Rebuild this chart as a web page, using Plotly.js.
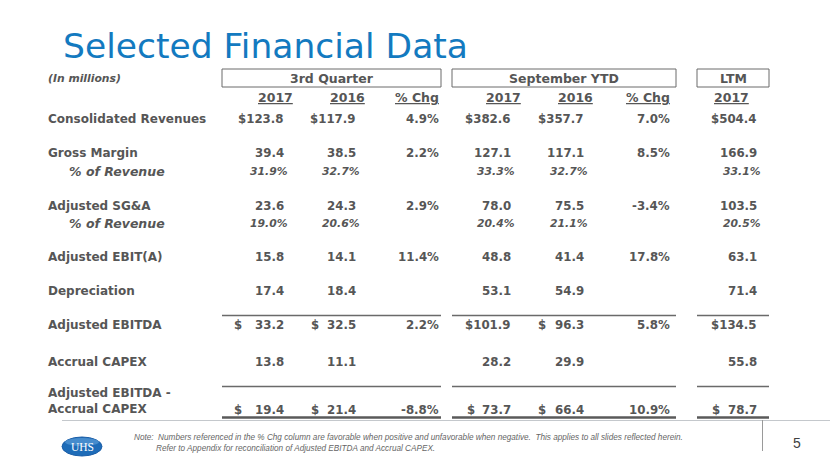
<!DOCTYPE html>
<html>
<head>
<meta charset="utf-8">
<script src="https://cdn.plot.ly/plotly-3.0.1.min.js"></script>
<style>html,body{margin:0;padding:0;background:#fff;}#chart{width:830px;height:467px;}</style>
</head>
<body>
<div id="chart"></div>
<script>
// ---- Data ----
const rowLabels = ["Consolidated Revenues", "Gross Margin", "% of Revenue", "Adjusted SG&A", "% of Revenue",
  "Adjusted EBIT(A)", "Depreciation", "Adjusted EBITDA", "Accrual CAPEX", "Adjusted EBITDA -<br>Accrual CAPEX"];
const rowKinds = ["dollar", "num", "pct", "num", "pct", "num", "num", "dollar", "num", "dollar"];
const q2017   = [123.8, 39.4, 31.9, 23.6, 19.0, 15.8, 17.4, 33.2, 13.8, 19.4];
const q2016   = [117.9, 38.5, 32.7, 24.3, 20.6, 14.1, 18.4, 32.5, 11.1, 21.4];
const qChg    = [4.9, 2.2, null, 2.9, null, 11.4, null, 2.2, null, -8.8];
const ytd2017 = [382.6, 127.1, 33.3, 78.0, 20.4, 48.8, 53.1, 101.9, 28.2, 73.7];
const ytd2016 = [357.7, 117.1, 32.7, 75.5, 21.1, 41.4, 54.9, 96.3, 29.9, 66.4];
const ytdChg  = [7.0, 8.5, null, -3.4, null, 17.8, null, 5.8, null, 10.9];
const ltm2017 = [504.4, 166.9, 33.1, 103.5, 20.5, 63.1, 71.4, 134.5, 55.8, 78.7];
const groupLabels = ["3rd Quarter", "September YTD", "LTM"];
const colHeaders = ["2017", "2016", "% Chg", "2017", "2016", "% Chg", "2017"];
const titleText = "Selected Financial Data";
const unitsText = "(In millions)";
const noteLines = ["Note:  Numbers referenced in the % Chg column are favorable when positive and unfavorable when negative.  This applies to all slides reflected herein.",
  "Refer to Appendix for reconciliation of Adjusted EBITDA and Accrual CAPEX."];
const pageNumber = "5";

// ---- Layout geometry (styles) ----
const gray = "#565656";
const bodyFont = "DejaVu Sans, Verdana, sans-serif";
const colRight = [286, 358, 441, 513, 586, 672, 759];
const colCenter = [275, 347, 417, 503, 575, 648, 731];
const dollarOffset = [54, 49, 0, 48, 50, 0, 49];
const rowY = [119, 153, 171, 206, 223, 257, 291, 325, 362, 410];
const labelY = [119, 153, 171, 206, 223, 257, 291, 325, 362, 401];
const groupBoxes = [[222, 441], [452, 676], [697, 769]];
const columns = [q2017, q2016, qChg, ytd2017, ytd2016, ytdChg, ltm2017];
const isChg = [false, false, true, false, false, true, false];

const ann = [];
const shapes = [];
function A(o) { ann.push(Object.assign({xref: 'x', yref: 'y', showarrow: false, yanchor: 'middle'}, o)); }

// Title
A({x: 61, y: 46, text: titleText, xanchor: 'left', font: {family: bodyFont, size: 34.5, color: '#137ac0'}});
// units
A({x: 46, y: 78, text: '<b><i>' + unitsText + '</i></b>', xanchor: 'left', font: {family: bodyFont, size: 10.8, color: gray}});
// group headers and boxes
groupLabels.forEach((g, i) => {
  const [x0, x1] = groupBoxes[i];
  shapes.push({type: 'rect', xref: 'x', yref: 'y', x0: x0, x1: x1, y0: 69, y1: 87, line: {color: '#6a6a6a', width: 1}, fillcolor: 'rgba(0,0,0,0)'});
  A({x: (x0 + x1) / 2, y: 78, text: '<b>' + g + '</b>', xanchor: 'center', font: {family: bodyFont, size: 12.5, color: gray}});
});
// column headers
colHeaders.forEach((h, i) => {
  A({x: colCenter[i], y: 97, text: '<b><u>' + h + '</u></b>', xanchor: 'center', font: {family: bodyFont, size: 12.5, color: gray}});
});
// row labels
rowLabels.forEach((lab, r) => {
  const pct = rowKinds[r] === 'pct';
  A({x: pct ? 67 : 46, y: labelY[r], text: pct ? '<b><i>' + lab + '</i></b>' : '<b>' + lab + '</b>', xanchor: 'left', align: 'left',
     font: {family: bodyFont, size: pct ? 12.5 : 12, color: gray}});
});
// values
const vf = {family: bodyFont, size: 11.8, color: gray};
columns.forEach((col, c) => {
  col.forEach((v, r) => {
    if (v === null || v === undefined) return;
    const kind = rowKinds[r];
    if (isChg[c]) {
      A({x: colRight[c], y: rowY[r], text: '<b>' + v.toFixed(1) + '%</b>', xanchor: 'right', font: vf});
    } else if (kind === 'pct') {
      A({x: colRight[c] + 4, y: rowY[r], text: '<b><i>' + v.toFixed(1) + '%</i></b>', xanchor: 'right', font: {family: bodyFont, size: 10.8, color: gray}});
    } else if (kind === 'dollar') {
      if (v >= 100) {
        A({x: colRight[c], y: rowY[r], text: '<b>$' + v.toFixed(1) + '</b>', xanchor: 'right', font: vf});
      } else {
        A({x: colRight[c], y: rowY[r], text: '<b>' + v.toFixed(1) + '</b>', xanchor: 'right', font: vf});
        A({x: colRight[c] - dollarOffset[c], y: rowY[r], text: '<b>$</b>', xanchor: 'left', font: vf});
      }
    } else {
      A({x: colRight[c], y: rowY[r], text: '<b>' + v.toFixed(1) + '</b>', xanchor: 'right', font: vf});
    }
  });
});
// table rules
groupBoxes.forEach(([x0, x1]) => {
  shapes.push({type: 'line', xref: 'x', yref: 'y', x0: x0, x1: x1, y0: 315.5, y1: 315.5, line: {color: '#6a6a6a', width: 1.5}});
  shapes.push({type: 'line', xref: 'x', yref: 'y', x0: x0, x1: x1, y0: 386.5, y1: 386.5, line: {color: '#6a6a6a', width: 1.5}});
  shapes.push({type: 'line', xref: 'x', yref: 'y', x0: x0, x1: x1, y0: 417.5, y1: 417.5, line: {color: '#5a5a5a', width: 2.5}});
});
// footer
shapes.push({type: 'line', xref: 'x', yref: 'y', x0: 62, x1: 830, y0: 420.5, y1: 420.5, line: {color: '#c4c8cc', width: 1}});
shapes.push({type: 'line', xref: 'x', yref: 'y', x0: 762.5, x1: 762.5, y0: 420, y1: 451, line: {color: '#9a9a9a', width: 1}});
shapes.push({type: 'circle', xref: 'x', yref: 'y', x0: 62, x1: 102, y0: 437, y1: 456, line: {color: '#1d5fa8', width: 1}, fillcolor: '#1e6cb8'});
shapes.push({type: 'circle', xref: 'x', yref: 'y', x0: 65, x1: 99, y0: 438, y1: 446, line: {width: 0}, fillcolor: 'rgba(120,180,230,0.45)'});
A({x: 82, y: 447, text: 'UHS', xanchor: 'center', font: {family: 'Liberation Serif, DejaVu Serif, serif', size: 11.5, color: '#ffffff'}});
A({x: 132, y: 437, text: '<i>' + noteLines[0] + '</i>', xanchor: 'left', font: {family: 'Liberation Sans, Arial, sans-serif', size: 8.2, color: '#666666'}});
A({x: 154, y: 448, text: '<i>' + noteLines[1] + '</i>', xanchor: 'left', font: {family: 'Liberation Sans, Arial, sans-serif', size: 8.2, color: '#666666'}});
A({x: 797, y: 443, text: pageNumber, xanchor: 'center', font: {family: 'Liberation Sans, Arial, sans-serif', size: 14, color: '#404040'}});

const layout = {
  width: 830, height: 467,
  margin: {l: 0, r: 0, t: 0, b: 0},
  paper_bgcolor: '#ffffff', plot_bgcolor: '#ffffff',
  xaxis: {range: [0, 830], visible: false, fixedrange: true},
  yaxis: {range: [467, 0], visible: false, fixedrange: true},
  showlegend: false,
  annotations: ann,
  shapes: shapes
};
Plotly.newPlot('chart', [], layout, {staticPlot: true, displayModeBar: false});
</script>
</body>
</html>
